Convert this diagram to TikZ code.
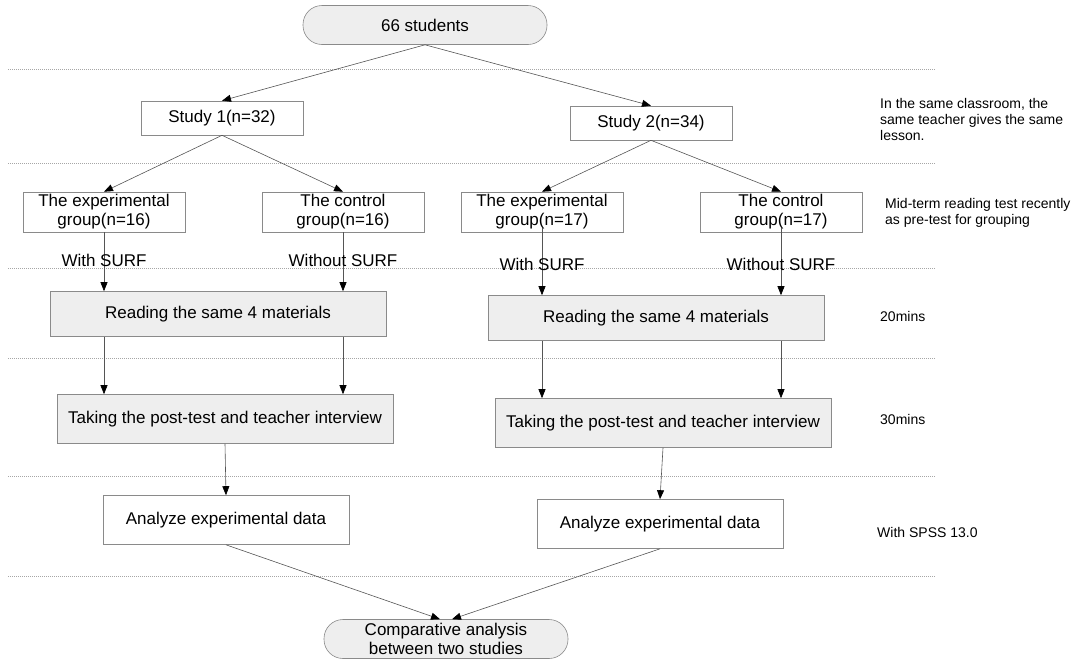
\documentclass[tikz,border=0pt]{standalone}
\usepackage{fontspec}
\setmainfont{Liberation Sans}
\usetikzlibrary{positioning}
\usetikzlibrary{arrows.meta}
\definecolor{boxline}{HTML}{8A8A8A}
\definecolor{boxfill}{HTML}{EEEEEE}
\definecolor{arrowline}{HTML}{555555}

\begin{document}
\begin{tikzpicture}
	[x=1pt,y=-1pt,
	 every node/.style={font=\fontsize{17}{19}\selectfont,align=center,inner sep=0pt},
	 box/.style={draw=boxline,semithick,minimum height=34pt},
	 study/.style={box,minimum width=162pt},
	 group/.style={box,minimum width=162pt,minimum height=40pt},
	 task/.style={box,fill=boxfill,minimum width=336pt,minimum height=45pt},
	 terminal/.style={box,fill=boxfill,rounded corners=19pt,minimum width=244pt,minimum height=39pt},
	 note/.style={font=\fontsize{14}{16}\selectfont,align=left,anchor=west},
	 connect/.style={draw=arrowline,semithick,-{Triangle[length=9pt,width=7pt,black]}},
	 guide/.style={draw=gray!70,dash pattern=on 1pt off 1pt}]
	\useasboundingbox (0,0) rectangle (1086,659);

	% phase separators
	\foreach \y in {69,163,268,358,476,576}
		\draw [guide] (8,\y) -- (935,\y);

	\node (all) [terminal] at (425,25) {66 students};

	\node (s1) [study] at (222,118) {Study 1(n=32)};
	\node (s2) [study] at (651,123) {Study 2(n=34)};
	\draw [connect] (all.south) -- (s1.north);
	\draw [connect] (all.south) -- (s2.north);

	\node (e1) [group] at (104,212) {The experimental\\group(n=16)};
	\node (c1) [group] at (343,212) {The control\\group(n=16)};
	\node (e2) [group] at (542,212) {The experimental\\group(n=17)};
	\node (c2) [group] at (781,212) {The control\\group(n=17)};
	\draw [connect] (s1.south) -- (e1.north);
	\draw [connect] (s1.south) -- (c1.north);
	\draw [connect] (s2.south) -- (e2.north);
	\draw [connect] (s2.south) -- (c2.north);

	\node (r1) [task] at (218,314) {Reading the same 4 materials};
	\node (r2) [task] at (656,318) {Reading the same 4 materials};
	\draw [connect] (e1.south) -- (e1.south |- r1.north);
	\draw [connect] (c1.south) -- (c1.south |- r1.north);
	\draw [connect] ([yshift=4pt]e2.south) -- (e2.south |- r2.north);
	\draw [connect] ([yshift=4pt]c2.south) -- (c2.south |- r2.north);
	\node (w1) at (104,260) {With SURF};
	\node (o1) at (343,260) {Without SURF};
	\node (w2) at (542,264) {With SURF};
	\node (o2) at (781,264) {Without SURF};

	\node (t1) [task,minimum height=49pt] at (225,419) {Taking the post-test and teacher interview};
	\node (t2) [task,minimum height=49pt] at (663,423) {Taking the post-test and teacher interview};
	\draw [connect] (r1.south -| e1) -- (t1.north -| e1);
	\draw [connect] (r1.south -| c1) -- (t1.north -| c1);
	\draw [connect] (r2.south -| e2) -- (t2.north -| e2);
	\draw [connect] (r2.south -| c2) -- (t2.north -| c2);

	\node (a1) [box,minimum width=246pt,minimum height=49pt] at (226,520) {Analyze experimental data};
	\node (a2) [box,minimum width=246pt,minimum height=49pt] at (660,524) {Analyze experimental data};
	\draw [connect] (t1.south) -- (a1.north);
	\draw [connect] (t2.south) -- (a2.north);

	\node (cmp) [terminal] at (446,639) {Comparative analysis\\between two studies};
	\draw [connect] (a1.south) -- ([xshift=-6pt]cmp.north);
	\draw [connect] (a2.south) -- ([xshift=6pt]cmp.north);

	% notes on the right
	\node (n1) [note] at (880,119) {In the same classroom, the\\same teacher gives the same\\lesson.};
	\node (n2) [note] at (885,213) {Mid-term reading test recently\\as pre-test for grouping};
	\node (n3) [note] at (880,316) {20mins};
	\node (n4) [note] at (880,419) {30mins};
	\node (n5) [note] at (877,532) {With SPSS 13.0};
\end{tikzpicture}
\end{document}
